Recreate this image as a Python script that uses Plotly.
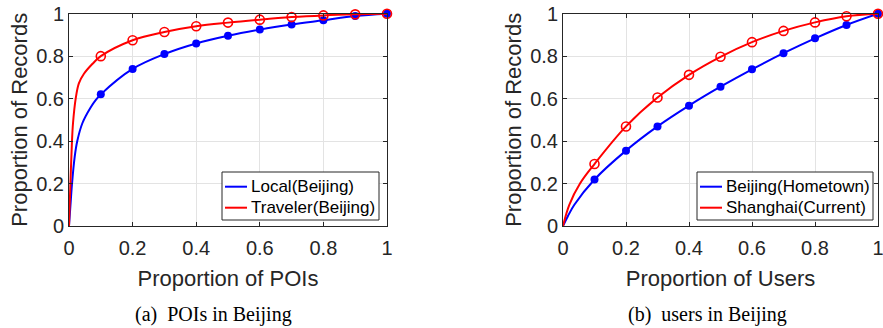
import plotly.graph_objects as go

# Marker positions (every 10% step)
x_marks = [0.1, 0.2, 0.3, 0.4, 0.5, 0.6, 0.7, 0.8, 0.9, 1.0]

# (a) POIs in Beijing: cumulative share of records vs share of POIs
local_head_x = [0.0, 0.0044, 0.0095, 0.018, 0.026, 0.042, 0.068, 0.085]
local_head_y = [0.0, 0.094, 0.20, 0.327, 0.40, 0.484, 0.558, 0.595]
local_marks = [0.62, 0.74, 0.81, 0.86, 0.896, 0.925, 0.949, 0.969, 0.989, 1.0]

traveler_head_x = [0.0, 0.0044, 0.0094, 0.0126, 0.021, 0.031, 0.047, 0.074]
traveler_head_y = [0.0, 0.20, 0.40, 0.484, 0.60, 0.672, 0.717, 0.764]
traveler_marks = [0.80, 0.875, 0.914, 0.941, 0.958, 0.972, 0.984, 0.992, 0.997, 1.0]

# (b) users in Beijing: cumulative share of records vs share of users
hometown_head_x = [0.0, 0.015, 0.036]
hometown_head_y = [0.0, 0.045, 0.10]
hometown_marks = [0.219, 0.355, 0.469, 0.567, 0.656, 0.738, 0.814, 0.884, 0.947, 1.0]

current_head_x = [0.0, 0.02, 0.054]
current_head_y = [0.0, 0.10, 0.20]
current_marks = [0.292, 0.469, 0.605, 0.712, 0.797, 0.866, 0.919, 0.959, 0.988, 1.0]

tick_vals = [0, 0.2, 0.4, 0.6, 0.8, 1]
tick_text = ["0", "0.2", "0.4", "0.6", "0.8", "1"]

legend_a = ["Local(Beijing)", "Traveler(Beijing)"]
legend_b = ["Beijing(Hometown)", "Shanghai(Current)"]

BLUE = "#0000FF"
RED = "#FF0000"
INK = "#262626"
SANS = "Liberation Sans, Arial, sans-serif"
SERIF = "Liberation Serif, Times New Roman, serif"

W, H = 883, 328


def px(x):
    return x / W


def py(y):
    return 1 - y / H


fig = go.Figure()


def add_series(xh, yh, marks, color, name, xa, ya, filled):
    fig.add_trace(go.Scatter(
        x=xh + x_marks, y=yh + marks, mode="lines", name=name,
        line=dict(color=color, width=2, shape="spline", smoothing=1.0),
        xaxis=xa, yaxis=ya, showlegend=False,
    ))
    if filled:
        marker = dict(symbol="circle", size=8, color=color, line=dict(width=0))
    else:
        marker = dict(symbol="circle-open", size=9, color=color, line=dict(width=1.6, color=color))
    fig.add_trace(go.Scatter(
        x=x_marks, y=marks, mode="markers", marker=marker, showlegend=False,
        xaxis=xa, yaxis=ya, cliponaxis=False, hoverinfo="skip",
    ))


add_series(local_head_x, local_head_y, local_marks, BLUE, legend_a[0], "x", "y", True)
add_series(traveler_head_x, traveler_head_y, traveler_marks, RED, legend_a[1], "x", "y", False)
add_series(hometown_head_x, hometown_head_y, hometown_marks, BLUE, legend_b[0], "x2", "y2", True)
add_series(current_head_x, current_head_y, current_marks, RED, legend_b[1], "x2", "y2", False)

axis_common = dict(
    range=[0, 1], tickvals=tick_vals, ticktext=tick_text,
    showline=True, linecolor=INK, linewidth=1, mirror="ticks",
    ticks="inside", ticklen=4, tickcolor=INK, tickwidth=1,
    showgrid=True, gridcolor="#E3E3E3", gridwidth=1, zeroline=False,
    tickfont=dict(family=SANS, size=20, color=INK),
    ticklabeloverflow="allow",
    automargin=False, fixedrange=True,
)
title_font = dict(family=SANS, size=22, color=INK)

y_dom = [py(226), py(13.7)]

# Boxed legends in the lower-right corner of each panel
shapes = []
annotations = []


def add_legend(box, line_x, text_x, labels):
    x0, x1, y0, y1 = box
    shapes.append(dict(type="rect", xref="paper", yref="paper",
                       x0=px(x0), x1=px(x1), y0=py(y1), y1=py(y0),
                       fillcolor="white", line=dict(color=INK, width=1), layer="above"))
    for row_y, color, label in zip([186.7, 207.7], [BLUE, RED], labels):
        shapes.append(dict(type="line", xref="paper", yref="paper",
                           x0=px(line_x[0]), x1=px(line_x[1]), y0=py(row_y), y1=py(row_y),
                           line=dict(color=color, width=2), layer="above"))
        annotations.append(dict(text=label, x=px(text_x), y=py(row_y), xref="paper", yref="paper",
                                showarrow=False, xanchor="left", yanchor="middle",
                                font=dict(family=SANS, size=17, color="black")))


add_legend((222, 379, 172, 220), (225, 247), 248.5, legend_a)
add_legend((697, 873, 172, 220), (700, 722), 723.5, legend_b)

annotations += [
    dict(text="(a)\u2002POIs in Beijing", x=px(213), y=py(314), xref="paper", yref="paper",
         showarrow=False, xanchor="center", yanchor="middle",
         font=dict(family=SERIF, size=20, color="black")),
    dict(text="(b)\u2002users in Beijing", x=px(707), y=py(314), xref="paper", yref="paper",
         showarrow=False, xanchor="center", yanchor="middle",
         font=dict(family=SERIF, size=20, color="black")),
]

fig.update_layout(
    width=W, height=H,
    margin=dict(l=0, r=0, t=0, b=0),
    paper_bgcolor="white", plot_bgcolor="white",
    showlegend=False,
    xaxis=dict(domain=[px(69), px(387)], anchor="y", ticklabelstandoff=4,
               title=dict(text="Proportion of POIs", font=title_font, standoff=12),
               **axis_common),
    yaxis=dict(domain=y_dom, anchor="x",
               title=dict(text="Proportion of Records", font=title_font, standoff=2),
               **axis_common),
    xaxis2=dict(domain=[px(563), px(878)], anchor="y2", ticklabelstandoff=4,
                title=dict(text="Proportion of Users", font=title_font, standoff=12),
                **axis_common),
    yaxis2=dict(domain=y_dom, anchor="x2",
                title=dict(text="Proportion of Records", font=title_font, standoff=2),
                **axis_common),
    shapes=shapes,
    annotations=annotations,
)

fig.write_html("out.html")
